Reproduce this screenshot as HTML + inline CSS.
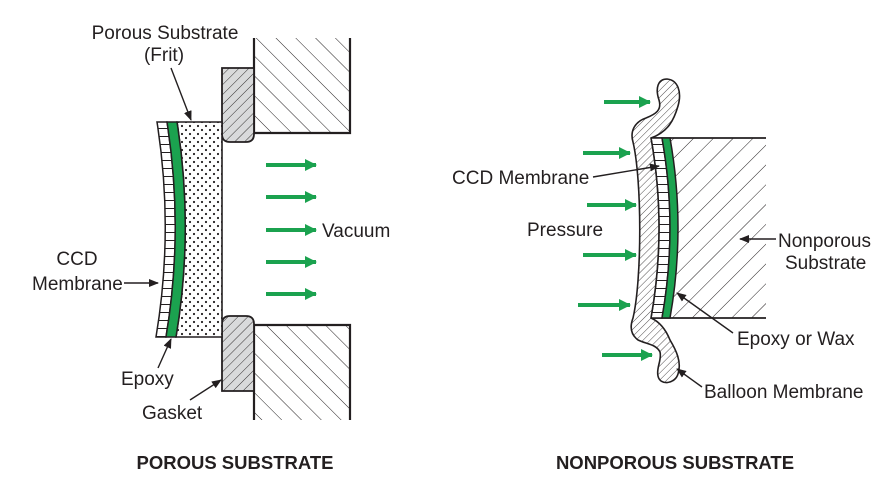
<!DOCTYPE html>
<html><head><meta charset="utf-8"><style>
html,body{margin:0;padding:0;background:#fff;}
svg{display:block;}
text{font-family:"Liberation Sans",Arial,sans-serif;fill:#231f20;}
</style></head><body>
<svg width="894" height="484" viewBox="0 0 894 484" xmlns="http://www.w3.org/2000/svg">
<defs>
<pattern id="hb" width="14" height="14" patternUnits="userSpaceOnUse" patternTransform="rotate(-45)">
<line x1="0" y1="0" x2="0" y2="14" stroke="#231f20" stroke-width="1"/></pattern>
<pattern id="hf" width="14" height="14" patternUnits="userSpaceOnUse" patternTransform="rotate(45)">
<line x1="0" y1="0" x2="0" y2="14" stroke="#231f20" stroke-width="1"/></pattern>
<pattern id="hg" width="7" height="7" patternUnits="userSpaceOnUse" patternTransform="rotate(45)">
<rect width="7" height="7" fill="#d9dadb"/><line x1="0" y1="0" x2="0" y2="7" stroke="#231f20" stroke-width="0.9"/></pattern>
<pattern id="hm" width="5" height="5" patternUnits="userSpaceOnUse" patternTransform="rotate(45)">
<rect width="5" height="5" fill="#fff"/><line x1="0" y1="0" x2="0" y2="5" stroke="#231f20" stroke-width="0.8"/></pattern>
<pattern id="dots" width="8" height="8" patternUnits="userSpaceOnUse">
<rect width="8" height="8" fill="#fff"/><circle cx="2" cy="2" r="1.1" fill="#231f20"/><circle cx="6" cy="6" r="1.1" fill="#231f20"/></pattern>
<pattern id="cells" width="20" height="8" patternUnits="userSpaceOnUse">
<rect width="20" height="8" fill="#fff"/><line x1="0" y1="0.5" x2="20" y2="0.5" stroke="#231f20" stroke-width="1"/></pattern>
<marker id="ah" markerWidth="10" markerHeight="8" refX="9" refY="4" orient="auto" markerUnits="userSpaceOnUse">
<path d="M0,0 L10,4 L0,8 z" fill="#231f20"/></marker>
<marker id="ga" markerWidth="12" markerHeight="12" refX="11" refY="6" orient="auto" markerUnits="userSpaceOnUse">
<path d="M0,0 L12,6 L0,12 z" fill="#1ba24f"/></marker>
</defs>

<!-- LEFT DIAGRAM -->
<path d="M254,38 V133 H350 V38" fill="url(#hb)" stroke="#231f20" stroke-width="2.2"/>
<path d="M254,420 V325 H350 V420" fill="url(#hb)" stroke="#231f20" stroke-width="2.2"/>
<path d="M222,68 H254 V134 Q254,142 246,142 H230 Q222,142 222,134 Z" fill="url(#hg)" stroke="#231f20" stroke-width="1.8"/>
<path d="M222,391 H254 V324 Q254,316 246,316 H230 Q222,316 222,324 Z" fill="url(#hg)" stroke="#231f20" stroke-width="1.8"/>
<path d="M177,122 H222 V337 H176 Q194,230 177,122 Z" fill="url(#dots)" stroke="#231f20" stroke-width="1.6"/>
<path d="M157,122 H167 Q184,230 166,337 H156 Q174,230 157,122 Z" fill="url(#cells)" stroke="#231f20" stroke-width="1.5"/>
<path d="M167,122 H177 Q194,230 176,337 H166 Q184,230 167,122 Z" fill="#1ba24f" stroke="#231f20" stroke-width="1.5"/>
<g stroke="#1ba24f" stroke-width="4" marker-end="url(#ga)">
<line x1="266" y1="165" x2="316" y2="165"/><line x1="266" y1="197" x2="316" y2="197"/>
<line x1="266" y1="230" x2="316" y2="230"/><line x1="266" y1="262" x2="316" y2="262"/>
<line x1="266" y1="294" x2="316" y2="294"/></g>
<g stroke="#231f20" stroke-width="1.4" marker-end="url(#ah)" fill="none">
<line x1="171" y1="68" x2="191" y2="120"/>
<line x1="124" y1="283" x2="158" y2="283"/>
<line x1="158" y1="368" x2="171" y2="339"/>
<line x1="190" y1="400" x2="221" y2="380"/>
</g>
<g font-size="19">
<text x="165" y="39" text-anchor="middle">Porous Substrate</text>
<text x="164" y="61" text-anchor="middle">(Frit)</text>
<text x="322" y="237">Vacuum</text>
<text x="77" y="265" text-anchor="middle">CCD</text>
<text x="32" y="290">Membrane</text>
<text x="121" y="385">Epoxy</text>
<text x="142" y="419">Gasket</text>
</g>
<text x="235" y="469" text-anchor="middle" font-size="18.5" font-weight="bold">POROUS SUBSTRATE</text>

<!-- RIGHT DIAGRAM -->
<path d="M766,138 H670 Q686,228 670,318 H766" fill="url(#hf)" stroke="none"/>
<line x1="651" y1="138" x2="766" y2="138" stroke="#231f20" stroke-width="1.8"/>
<line x1="651" y1="318" x2="766" y2="318" stroke="#231f20" stroke-width="1.8"/>
<path d="M651,138 H662 Q678,228 662,318 H651 Q667,228 651,138 Z" fill="url(#cells)" stroke="#231f20" stroke-width="1.5"/>
<path d="M662,138 H670 Q686,228 670,318 H662 Q678,228 662,138 Z" fill="#1ba24f" stroke="#231f20" stroke-width="1.5"/>
<path d="M651,138 Q667,228 651,318 C660,322 666,330 670,340 C676,350 682,362 678,374 C675,384 660,386 658,376 C656,368 662,360 660,352 C656,344 646,344 638,340 C630,334 630,326 633,318 C642,280 642,180 633,142 C630,132 634,122 646,118 C656,114 662,110 659,100 C655,88 658,79 667,79 C678,80 682,92 678,106 C674,120 668,132 651,138 Z" fill="url(#hm)" stroke="#231f20" stroke-width="1.6"/>
<g stroke="#1ba24f" stroke-width="4" marker-end="url(#ga)">
<line x1="604" y1="102" x2="650" y2="102"/><line x1="583" y1="153" x2="630" y2="153"/>
<line x1="587" y1="205" x2="636" y2="205"/><line x1="583" y1="255" x2="636" y2="255"/>
<line x1="578" y1="305" x2="630" y2="305"/><line x1="602" y1="355" x2="652" y2="355"/></g>
<g stroke="#231f20" stroke-width="1.4" marker-end="url(#ah)" fill="none">
<line x1="593" y1="177" x2="659" y2="166"/>
<line x1="776" y1="239" x2="740" y2="239"/>
<line x1="733" y1="333" x2="677" y2="293"/>
<line x1="702" y1="387" x2="677" y2="369"/>
</g>
<g font-size="19">
<text x="452" y="184">CCD Membrane</text>
<text x="527" y="236">Pressure</text>
<text x="778" y="247">Nonporous</text>
<text x="785" y="269">Substrate</text>
<text x="737" y="345">Epoxy or Wax</text>
<text x="704" y="398">Balloon Membrane</text>
</g>
<text x="675" y="469" text-anchor="middle" font-size="18.5" font-weight="bold">NONPOROUS SUBSTRATE</text>
</svg>
</body></html>
